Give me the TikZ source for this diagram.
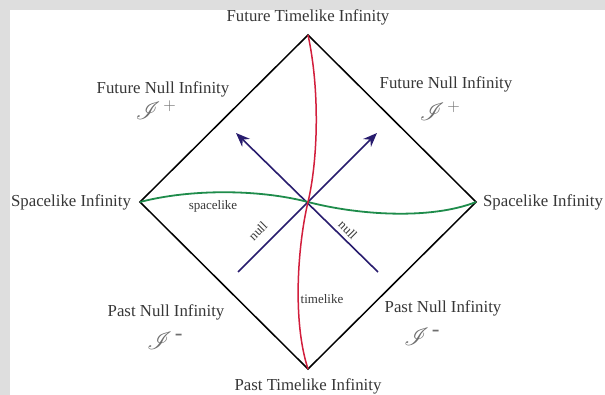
\documentclass[tikz,border=0pt]{standalone}
\usepackage{fontspec}
\setmainfont{Liberation Serif}
\usepackage{mathrsfs}
\usetikzlibrary{arrows.meta}
\definecolor{bandgray}{RGB}{222,222,222}
\definecolor{txtgray}{RGB}{55,55,55}
\definecolor{scrgray}{RGB}{110,110,110}
\definecolor{spgreen}{RGB}{30,140,75}
\definecolor{tlred}{RGB}{210,30,60}
\definecolor{nullblue}{RGB}{40,28,110}
\tikzset{
  biglabel/.style={text=txtgray, font=\fontsize{16.8}{18}\selectfont, inner sep=0pt},
  smalllabel/.style={text=txtgray, font=\fontsize{13}{14}\selectfont, inner sep=0pt},
  scri/.style={text=scrgray, font=\fontsize{23}{24}\selectfont, inner sep=0pt},
  edge/.style={black, line width=1.5pt, line join=miter},
  spacecurve/.style={spgreen, line width=1.8pt},
  timecurve/.style={tlred, line width=1.5pt},
  nullarrow/.style={nullblue, line width=1.6pt, -{Stealth[length=14pt,width=11pt]}}
}
\begin{document}
\begin{tikzpicture}[x=1pt,y=-1pt]
\useasboundingbox (0,0) rectangle (605,395);
\fill[bandgray] (0,0) rectangle (605,395);
\fill[white] (10,10) rectangle (605,395);
% vertices
\coordinate (T) at (308,35);
\coordinate (B) at (308,369);
\coordinate (L) at (140,202);
\coordinate (R) at (476,202);
\coordinate (C) at (308,202);
\coordinate (nlA) at (238,272);
\coordinate (nlB) at (377,133);
\coordinate (nrA) at (378,272);
\coordinate (nrB) at (236,133);
% diamond
\draw[edge] (T) -- (R) -- (B) -- (L) -- cycle;
% null arrows
\draw[nullarrow] (nlA) -- (nlB);
\draw[nullarrow] (nrA) -- (nrB);
% spacelike curve
\draw[spacecurve] (L) .. controls (190,189) and (258,189) .. (C)
                     .. controls (358,215) and (430,220) .. (R);
% timelike curve
\draw[timecurve] (T) .. controls (320,90) and (318,160) .. (C)
                    .. controls (298,244) and (292,320) .. (B);
% labels
\node[biglabel] (ft) at (308,17) {Future Timelike Infinity};
\node[biglabel] (pt) at (308,386) {Past Timelike Infinity};
\node[biglabel] (sl) at (71,202) {Spacelike Infinity};
\node[biglabel] (sr) at (543,202) {Spacelike Infinity};
\node[biglabel] (fnl) at (163,89) {Future Null Infinity};
\node[biglabel] (fnr) at (446,84) {Future Null Infinity};
\node[biglabel] (pnl) at (166,312) {Past Null Infinity};
\node[biglabel] (pnr) at (443,308) {Past Null Infinity};
\node[scri] (jfl) at (156,110) {$\mathscr{I}^{\,+}$};
\node[scri] (jfr) at (440,111) {$\mathscr{I}^{\,+}$};
\node[scri] (jpl) at (165,341) {$\mathscr{I}^{\,\textrm{-}}$};
\node[scri] (jpr) at (422,337) {$\mathscr{I}^{\,\textrm{-}}$};
\node[smalllabel] (spl) at (213,206) {spacelike};
\node[smalllabel] (tll) at (322,299) {timelike};
\node[smalllabel, rotate=45] (nl1) at (258,231) {null};
\node[smalllabel, rotate=-45] (nl2) at (348,230) {null};
\end{tikzpicture}
\end{document}
